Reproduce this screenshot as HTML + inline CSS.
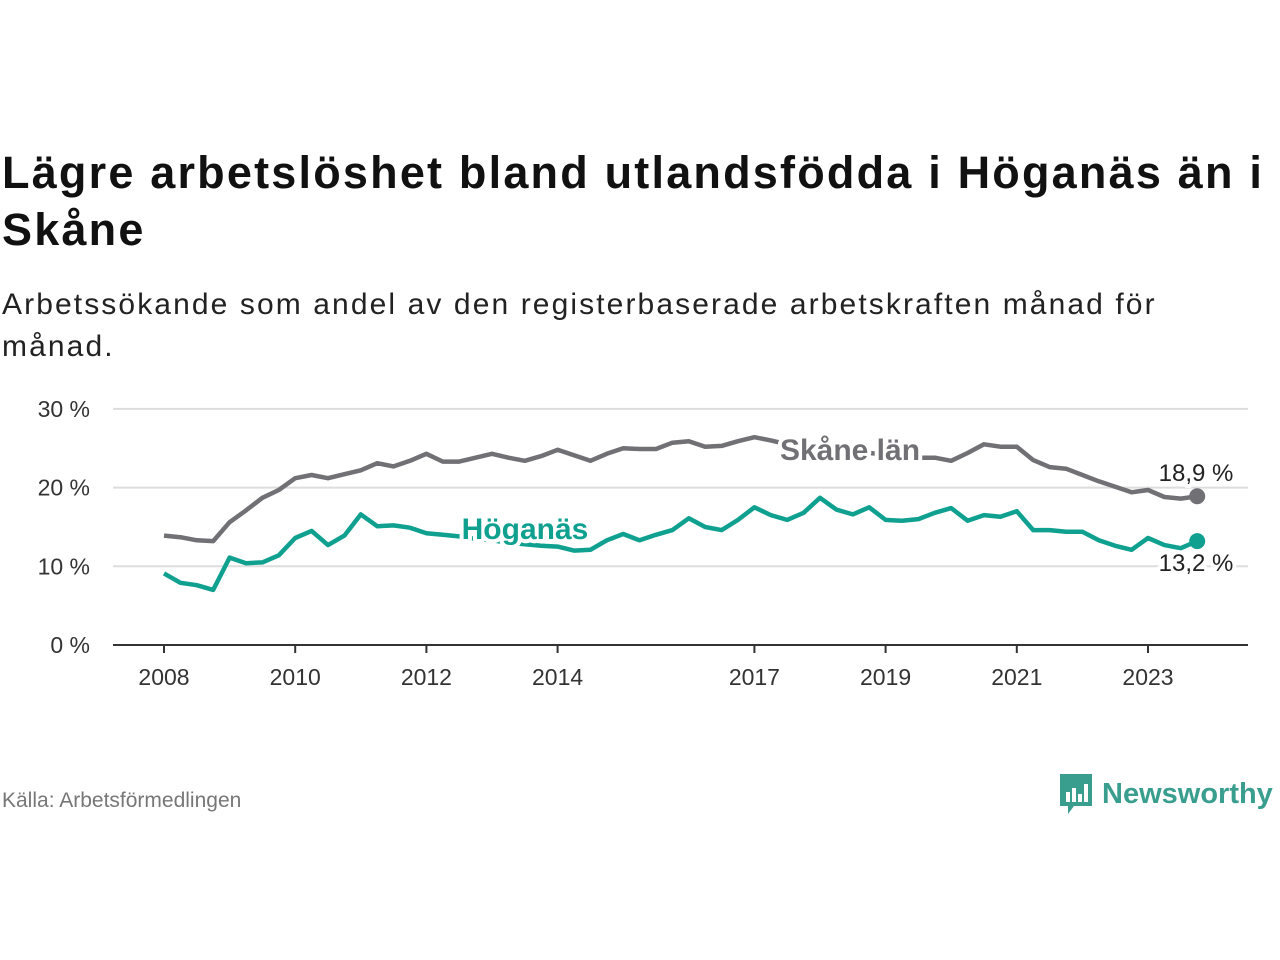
<!DOCTYPE html>
<html><head><meta charset="utf-8"><style>
body{margin:0;background:#fff;font-family:"Liberation Sans",sans-serif;}
#wrap{position:relative;width:1280px;height:960px;overflow:hidden}
h1{position:absolute;left:2px;top:144px;margin:0;font-size:45px;line-height:57px;font-weight:bold;color:#111;width:1276px;letter-spacing:2.2px;white-space:nowrap}
.sub{position:absolute;left:2px;top:284px;font-size:30px;line-height:42px;color:#222;width:1200px;letter-spacing:2.1px;white-space:nowrap}
.src{position:absolute;left:2px;top:789px;font-size:21px;color:#777}
.logo{position:absolute;left:1058px;top:772px;display:flex;align-items:center;color:#3a9e8f;font-size:29px;font-weight:bold}
</style></head><body><div id="wrap">
<h1>Lägre arbetslöshet bland utlandsfödda i Höganäs än i<br>Skåne</h1>
<div class="sub">Arbetssökande som andel av den registerbaserade arbetskraften månad för<br>månad.</div>
<svg id="chart" width="1280" height="960" style="position:absolute;left:0;top:0"></svg>
<div class="src">Källa: Arbetsförmedlingen</div>
<div class="logo"><svg width="36" height="44" viewBox="0 0 36 44"><path d="M2 2h32v32H16l-6 8v-8H2z" fill="#3a9e8f"/><rect x="8" y="20" width="4" height="10" fill="#fff"/><rect x="14" y="16" width="4" height="14" fill="#fff"/><rect x="20" y="22" width="4" height="8" fill="#fff"/><rect x="26" y="12" width="4" height="18" fill="#fff"/></svg><span style="margin-left:8px">Newsworthy</span></div>
</div>
<script>
const yTicks=[0,10,20,30];
const xTicks=[2008,2010,2012,2014,2017,2019,2021,2023];
const startYear=2008, step=0.25;
const skane=[13.9,13.7,13.3,13.2,15.6,17.1,18.7,19.7,21.2,21.6,21.2,21.7,22.2,23.1,22.7,23.4,24.3,23.3,23.3,23.8,24.3,23.8,23.4,24.0,24.8,24.1,23.4,24.3,25.0,24.9,24.9,25.7,25.9,25.2,25.3,25.9,26.4,26.0,25.5,25.3,25.0,24.8,24.6,24.4,24.2,24.0,23.8,23.8,23.4,24.4,25.5,25.2,25.2,23.5,22.6,22.4,21.6,20.8,20.1,19.4,19.7,18.8,18.6,18.9];
const hoganas=[9.1,7.9,7.6,7.0,11.1,10.4,10.5,11.4,13.6,14.5,12.7,13.9,16.6,15.1,15.2,14.9,14.2,14.0,13.8,13.5,13.3,13.0,12.8,12.6,12.5,12.0,12.1,13.3,14.1,13.3,14.0,14.6,16.1,15.0,14.6,15.9,17.5,16.5,15.9,16.8,18.7,17.2,16.6,17.5,15.9,15.8,16.0,16.8,17.4,15.8,16.5,16.3,17.0,14.6,14.6,14.4,14.4,13.3,12.6,12.1,13.6,12.7,12.3,13.2];
const NS="http://www.w3.org/2000/svg",svg=document.getElementById('chart');
const X=t=>164+(t-2008)*65.6, Y=v=>645-v*7.87;
function mk(tag,at,parent){const e=document.createElementNS(NS,tag);for(const k in at)e.setAttribute(k,at[k]);(parent||svg).appendChild(e);return e;}
yTicks.forEach(v=>{
 const l=mk('line',{x1:113,x2:1248,y1:Y(v),y2:Y(v),stroke:v?'#ddd':'#333','stroke-width':2});
 
 
 const t=mk('text',{x:90,y:Y(v)+8,'text-anchor':'end','font-size':23,fill:'#333'});t.textContent=v+' %';
 
 
});
xTicks.forEach(yr=>{
 const l=mk('line',{x1:X(yr),x2:X(yr),y1:645,y2:653,stroke:'#333','stroke-width':2});
 
 
 const t=mk('text',{x:X(yr),y:685,'text-anchor':'middle','font-size':23,fill:'#333'});t.textContent=yr;
 
 
});
function line(data,color,name){
 const d=data.map((v,i)=>(i?'L':'M')+X(startYear+i*step).toFixed(1)+' '+Y(v).toFixed(1)).join(' ');
 const p=mk('path',{d:d,fill:'none',stroke:color,'stroke-width':4.5,'stroke-linejoin':'round'});
 
 
 const last=data.length-1;
 const c=mk('circle',{cx:X(startYear+last*step),cy:Y(data[last]),r:8,fill:color});
 
 
}
line(skane,'#717075','skane');
line(hoganas,'#10a090','hoganas');
function label(txt,x,y,color,size,bold,name,anchor){
 const t=mk('text',{x:x,y:y,'text-anchor':anchor||'middle','font-size':size,'font-weight':bold?'bold':'normal',fill:color,stroke:'#fff','stroke-width':8,'paint-order':'stroke','stroke-linejoin':'round'});
 t.textContent=txt;
 
 
}
label('Skåne län',850,460,'#717075',30,true,'skane-series-label');
label('Höganäs',525,539,'#10a090',30,true,'hoganas-series-label');
label('18,9 %',1196,481,'#222',24,false,'skane-end-value');
label('13,2 %',1196,571,'#222',24,false,'hoganas-end-value');
</script></body></html>
